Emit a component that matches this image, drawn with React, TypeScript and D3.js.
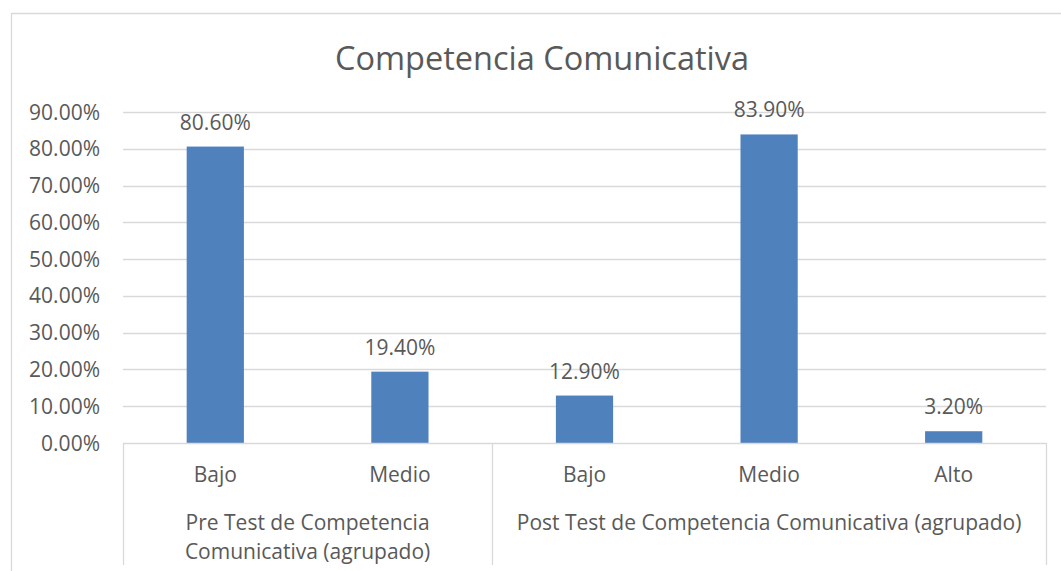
import React from "react";
import * as d3 from "d3";

const categories = ["Bajo", "Medio", "Bajo", "Medio", "Alto"];
const groups = ["Pre Test de Competencia|Comunicativa (agrupado)", "Post Test de Competencia Comunicativa (agrupado)"];
const groupSizes = [2, 3];
const values = [0.806, 0.194, 0.129, 0.839, 0.032];
const yTicks = [0, 0.1, 0.2, 0.3, 0.4, 0.5, 0.6, 0.7, 0.8, 0.9];
const title = "Competencia Comunicativa";

const W = 1061;
const H = 571;
const FONT = "'Open Sans', sans-serif";
const TXT = "#595959";
const GRID = "#d9d9d9";
const BAR = "#4f81bd";
const FS = 21;

export default function App() {
  const left = 123;
  const right = 1046;
  const top = 112;
  const bottom = 443;
  const x = d3.scaleBand<number>().domain(d3.range(categories.length)).range([left, right]).paddingInner(0.69).paddingOuter(0.345);
  const xOuter = d3.scaleBand<number>().domain(d3.range(categories.length)).range([left, right]).padding(0);
  const y = d3.scaleLinear().domain([0, 0.9]).range([bottom, top]);
  const fmt = d3.format(".2%");

  let acc = 0;
  const groupBounds = groupSizes.map((n) => {
    const s = acc;
    acc += n;
    return { start: xOuter(s)!, end: xOuter(acc - 1)! + xOuter.bandwidth() };
  });

  return (
    <svg width={W} height={H} style={{ position: "absolute", left: 0, top: 0, display: "block" }} fontFamily={FONT}>
      <rect x={0} y={0} width={W} height={H} fill="#fff" />
      <path d={`M11.5,${H} V13.5 H${W}`} fill="none" stroke={GRID} strokeWidth={1.3} />
      <text x={542} y={70} textAnchor="middle" fontSize={32.5} fill={TXT}>{title}</text>
      {yTicks.map((t) => (
        <g key={t}>
          {t > 0 && <line x1={left} x2={right} y1={Math.round(y(t)) + 0.5} y2={Math.round(y(t)) + 0.5} stroke={GRID} strokeWidth={1.3} />}
          <text x={100} y={y(t) + 7.5} textAnchor="end" fontSize={FS} fill={TXT}>{fmt(t)}</text>
        </g>
      ))}
      {values.map((v, i) => (
        <g key={i}>
          <rect x={x(i)} y={y(v)} width={x.bandwidth()} height={bottom - y(v)} fill={BAR} />
          <text x={x(i)! + x.bandwidth() / 2} y={y(v) - 17} textAnchor="middle" fontSize={FS} fill={TXT}>{fmt(v)}</text>
          <text x={x(i)! + x.bandwidth() / 2} y={482} textAnchor="middle" fontSize={FS} fill={TXT}>{categories[i]}</text>
        </g>
      ))}
      <line x1={left} x2={right} y1={bottom + 0.5} y2={bottom + 0.5} stroke={GRID} strokeWidth={1.3} />
      {[left, ...groupBounds.map((g) => g.end)].map((xx, i) => (
        <line key={i} x1={Math.round(xx) + 0.5} x2={Math.round(xx) + 0.5} y1={bottom} y2={565} stroke={GRID} strokeWidth={1.3} />
      ))}
      {groups.map((g, gi) => {
        const lines = g.split("|");
        const cx = (groupBounds[gi].start + groupBounds[gi].end) / 2;
        return lines.map((ln, li) => (
          <text key={gi + "-" + li} x={cx} y={530 + li * 29} textAnchor="middle" fontSize={FS} fill={TXT}>{ln}</text>
        ));
      })}
    </svg>
  );
}
